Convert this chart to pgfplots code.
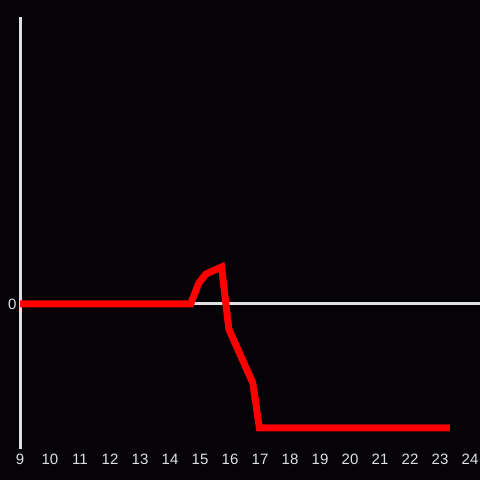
\documentclass[border=0pt]{standalone}
\usepackage{pgfplots}
\pgfplotsset{compat=1.18}
\usepackage{fontspec}
\setmainfont{Liberation Sans}
\definecolor{bg}{RGB}{5,3,8}
\definecolor{ax}{RGB}{224,224,224}
\definecolor{ln}{RGB}{255,0,0}
\begin{document}
\begin{tikzpicture}[x=1bp,y=1bp]
\fill[bg] (0,0) rectangle (480,480);
\useasboundingbox (0,0) rectangle (480,480);
\begin{axis}[
  at={(20bp,31bp)}, anchor=south west,
  scale only axis, width=460bp, height=432bp,
  xmin=9, xmax=24.3333, ymin=-145, ymax=287,
  axis line style={draw=none},
  xtick={9,...,24}, ytick={0},
  major tick length=0pt,
  tick label style={font=\fontsize{15bp}{17bp}\selectfont, text=ax},
  /pgf/number format/assume math mode=true,
  xticklabel style={yshift=-2bp},
  yticklabel style={xshift=0bp},
  clip=false,
]
\draw[ax, line width=3bp] (axis cs:9,0) -- (axis cs:24.3333,0);
\draw[ax, line width=3bp] (axis cs:9,-145) -- (axis cs:9,287);
\addplot[ln, line width=7bp, line join=miter, no markers] coordinates {
(9,0) (14.69,0) (14.96,21) (15.2,30) (15.72,37) (15.96,-25) (16.76,-79) (16.98,-124) (23.33,-124)
};
\end{axis}
\end{tikzpicture}
\end{document}
